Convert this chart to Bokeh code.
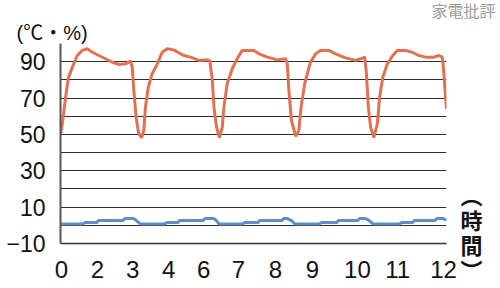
from bokeh.plotting import figure
from bokeh.models import FixedTicker, Range1d, Title, LinearAxis
from bokeh.embed import file_html
from bokeh.resources import INLINE

# Temperature (orange) vs time in hours
temp_h = [0.00, 0.07, 0.16, 0.24, 0.31, 0.41, 0.52, 0.67, 0.83, 0.99, 1.19, 1.40, 1.61, 1.81, 2.02, 2.18,
          2.23, 2.28, 2.35, 2.43, 2.52, 2.59, 2.64, 2.73, 2.85, 3.01, 3.16, 3.32, 3.52, 3.83, 4.04, 4.30,
          4.56, 4.64, 4.72, 4.77, 4.85, 4.94, 5.03, 5.08, 5.18, 5.34, 5.49, 5.65, 6.01, 6.17, 6.43, 6.74,
          7.00, 7.05, 7.10, 7.18, 7.31, 7.41, 7.48, 7.59, 7.77, 7.93, 8.08, 8.34, 8.55, 8.86, 9.17, 9.33,
          9.46, 9.51, 9.57, 9.64, 9.74, 9.85, 9.92, 10.02, 10.16, 10.33, 10.47, 10.73, 10.93, 11.14, 11.35,
          11.61, 11.76, 11.87, 11.92, 11.97, 12.00]
temp_v = [49.5, 57.7, 70.5, 80.8, 84.2, 88.8, 93.4, 96.2, 97.1, 95.2, 93.4, 91.6, 89.7, 88.5, 88.8, 90.3,
          87.0, 74.2, 59.5, 50.4, 48.2, 52.2, 65.0, 76.0, 83.4, 88.8, 95.2, 97.1, 96.5, 93.4, 92.5, 90.7,
          91.0, 90.7, 79.7, 65.0, 54.0, 48.2, 54.0, 65.0, 77.8, 86.1, 91.6, 96.2, 96.2, 94.3, 92.5, 91.0,
          91.6, 88.8, 74.2, 57.7, 48.9, 52.2, 65.0, 77.8, 89.7, 94.3, 96.2, 96.2, 94.3, 92.1, 90.7, 91.6,
          92.5, 83.4, 65.0, 54.0, 48.2, 55.9, 70.5, 81.5, 88.8, 93.4, 96.2, 96.2, 95.2, 93.4, 92.5,
          92.5, 93.4, 92.5, 83.4, 70.5, 64.0]

# Humidity (blue) vs time in hours
hum_h = [0.00, 0.68, 0.76, 1.12, 1.18, 1.94, 2.00, 2.27, 2.36, 2.49,
         3.24, 3.30, 3.64, 3.70, 4.43, 4.49, 4.76, 4.85, 4.93,
         5.66, 5.72, 6.13, 6.19, 6.88, 6.94, 7.06, 7.18, 7.29,
         8.05, 8.11, 8.58, 8.64, 9.24, 9.30, 9.48, 9.60, 9.72,
         10.54, 10.60, 10.94, 11.00, 11.64, 11.70, 11.90, 12.00]
hum_v = [0.7, 0.7, 1.5, 1.5, 2.6, 2.6, 3.7, 3.7, 2.6, 0.7,
         0.7, 1.5, 1.5, 2.6, 2.6, 3.7, 3.7, 2.6, 0.7,
         0.7, 1.5, 1.5, 2.6, 2.6, 3.7, 3.7, 2.6, 0.7,
         0.7, 1.5, 1.5, 2.6, 2.6, 3.7, 3.7, 2.6, 0.7,
         0.7, 1.5, 1.5, 2.6, 2.6, 3.7, 3.7, 2.8]

x_tick_labels = ["0", "2", "3", "4", "6", "7", "8", "9", "10", "11", "12"]
x_tick_pos = [0.03, 1.15, 2.24, 3.36, 4.45, 5.53, 6.68, 7.83, 9.23, 10.48, 11.91]
y_tick_labels = [-10, 10, 30, 50, 70, 90]
y_grid = [0, 10, 20, 30, 40, 50, 60, 70, 80, 90, 100]
unit_text = "(℃・%)"
time_text = "︵\n時\n間\n︶"
time_pos = -9.9
brand_text = "家電批評"

FONT = "Liberation Sans"
MIX = "Liberation Sans, Noto Sans CJK JP"

p = figure(width=500, height=288, output_backend="svg", toolbar_location=None,
           x_range=Range1d(0, 12), y_range=Range1d(-10, 100),
           min_border_left=60, min_border_right=54, min_border_top=43, min_border_bottom=45)
p.title_location = None
p.outline_line_color = None
p.background_fill_color = "white"
p.border_fill_color = "white"

p.xgrid.visible = False
p.ygrid.ticker = FixedTicker(ticks=y_grid)
p.ygrid.grid_line_color = "#2e2e2e"
p.ygrid.grid_line_width = 1.2

p.yaxis.ticker = FixedTicker(ticks=y_tick_labels)
p.yaxis.major_tick_line_color = None
p.yaxis.minor_tick_line_color = None
p.yaxis.axis_line_color = "#555555"
p.yaxis.axis_line_width = 2
p.yaxis.major_label_text_font = FONT
p.yaxis.major_label_text_font_size = "23px"
p.yaxis.major_label_text_color = "#111111"
p.yaxis.major_label_standoff = 9

p.xaxis.ticker = FixedTicker(ticks=x_tick_pos)
p.xaxis.major_label_overrides = {t: s for t, s in zip(x_tick_pos, x_tick_labels)}
p.xaxis.major_tick_line_color = None
p.xaxis.minor_tick_line_color = None
p.xaxis.axis_line_color = "#333333"
p.xaxis.axis_line_width = 1.5
p.xaxis.major_label_text_font = FONT
p.xaxis.major_label_text_font_size = "24px"
p.xaxis.major_label_text_color = "#111111"
p.xaxis.major_label_standoff = 11

# right-side axis carrying the vertical unit label for time
rax = LinearAxis(ticker=FixedTicker(ticks=[time_pos]),
                 major_label_overrides={time_pos: time_text},
                 axis_line_color=None, major_tick_line_color=None, minor_tick_line_color=None,
                 major_label_text_font=MIX, major_label_text_font_size="22px",
                 major_label_text_font_style="bold", major_label_text_color="#111111",
                 major_label_text_line_height=1.0, major_label_standoff=8)
p.add_layout(rax, "right")

p.line(hum_h, hum_v, line_color="#5f8dc6", line_width=3)
p.line(temp_h, temp_v, line_color="#e3704e", line_width=3)

p.add_layout(Title(text=unit_text, align="left", offset=-44, standoff=0,
                   text_font=MIX, text_font_size="20px", text_font_style="normal",
                   text_color="#111111"), "above")
p.add_layout(Title(text=brand_text, align="right", offset=-49, standoff=0,
                   text_font=MIX, text_font_size="16px", text_font_style="normal",
                   text_color="#9a9a9a"), "above")

open("out.html", "w").write(file_html(p, INLINE))
